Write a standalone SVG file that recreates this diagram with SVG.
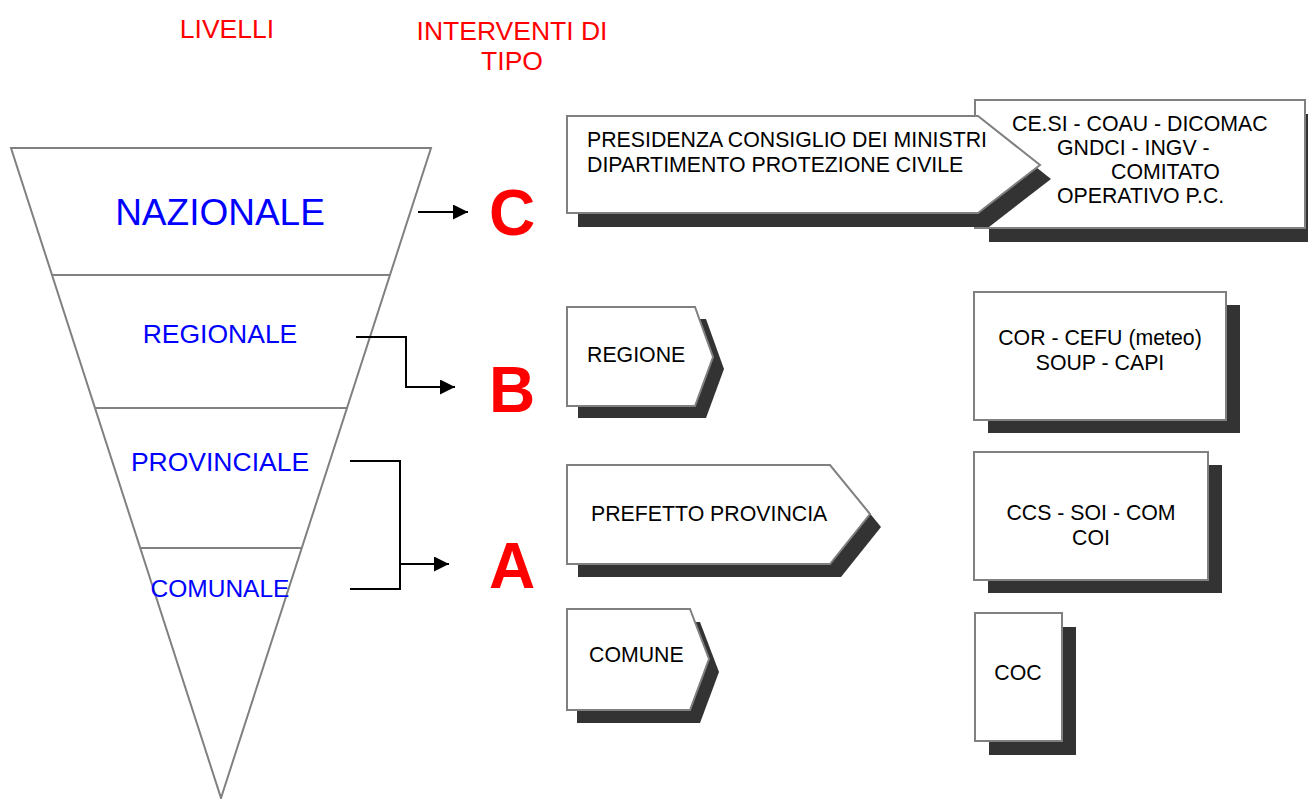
<svg xmlns="http://www.w3.org/2000/svg" width="1308" height="799" viewBox="0 0 1308 799">
<style>
text{font-family:"Liberation Sans",Arial,sans-serif}
.title{fill:#ff0000;font-size:26.5px;text-anchor:middle}
.lvl{fill:#0000ff;text-anchor:middle}
.fun{fill:none;stroke:#808080;stroke-width:2}
.shadow{fill:#333333;stroke:none}
.box{fill:#ffffff;stroke:#808080;stroke-width:2}
.bt{fill:#000000;font-size:21.3px}
.mid{text-anchor:middle}
.big{fill:#ff0000;font-size:64px;font-weight:bold;text-anchor:middle}
.con{fill:none;stroke:#000000;stroke-width:2}
</style>
<defs>
<marker id="arr" markerWidth="15" markerHeight="15" refX="15" refY="7.5" orient="auto" markerUnits="userSpaceOnUse">
<path d="M0,0 L15,7.5 L0,15 Z" fill="#000000"/>
</marker>
</defs>
<rect width="1308" height="799" fill="#ffffff"/>

<g id="titles">
<text class="title" x="227" y="38">LIVELLI</text>
<text class="title" x="512" y="40">INTERVENTI DI</text>
<text class="title" x="512" y="70">TIPO</text>
</g>

<g id="funnel">
<polygon class="fun" points="11,148 431,148 221,798"/>
<line class="fun" x1="52" y1="275" x2="390" y2="275"/>
<line class="fun" x1="95" y1="408" x2="347" y2="408"/>
<line class="fun" x1="140" y1="548" x2="302" y2="548"/>
</g>
<g id="lvl-nazionale"><text class="lvl" x="220" y="225" font-size="37">NAZIONALE</text></g>
<g id="lvl-regionale"><text class="lvl" x="220" y="343" font-size="26.5">REGIONALE</text></g>
<g id="lvl-provinciale"><text class="lvl" x="220" y="471" font-size="26.5">PROVINCIALE</text></g>
<g id="lvl-comunale"><text class="lvl" x="220" y="597" font-size="24.5">COMUNALE</text></g>

<g id="connectors">
<line class="con" x1="418" y1="212" x2="468" y2="212" marker-end="url(#arr)"/>
<polyline class="con" points="356,337 406,337 406,387 455,387" marker-end="url(#arr)"/>
<polyline class="con" points="350,461 400,461 400,589 350,589"/>
<line class="con" x1="400" y1="564" x2="449" y2="564" marker-end="url(#arr)"/>
</g>

<g id="tipo-c"><text class="big" x="512" y="235">C</text></g>
<g id="tipo-b"><text class="big" x="512" y="412">B</text></g>
<g id="tipo-a"><text class="big" x="512" y="588">A</text></g>

<g id="node-cesi">
<rect class="shadow" x="989" y="114" width="330" height="128"/>
<rect class="box" x="975" y="100" width="330" height="128"/>
<text class="bt" x="1012" y="131">CE.SI - COAU - DICOMAC</text>
<text class="bt" x="1057" y="155">GNDCI - INGV -</text>
<text class="bt" x="1111" y="179">COMITATO</text>
<text class="bt" x="1057" y="203">OPERATIVO P.C.</text>
</g>

<g id="node-presidenza">
<polygon class="shadow" points="567,116 978,116 1040,165 978,213 567,213" transform="translate(11,14)"/>
<polygon class="box" points="567,116 978,116 1040,165 978,213 567,213"/>
<text class="bt" x="587" y="147">PRESIDENZA CONSIGLIO DEI MINISTRI</text>
<text class="bt" x="587" y="172">DIPARTIMENTO PROTEZIONE CIVILE</text>
</g>

<g id="node-regione">
<polygon class="shadow" points="567,307 695,307 713,357 695,406 567,406" transform="translate(11,12)"/>
<polygon class="box" points="567,307 695,307 713,357 695,406 567,406"/>
<text class="bt" x="587" y="362">REGIONE</text>
</g>

<g id="node-cor">
<rect class="shadow" x="988" y="305" width="252" height="128"/>
<rect class="box" x="974" y="292" width="252" height="128"/>
<text class="bt mid" x="1100" y="345">COR - CEFU (meteo)</text>
<text class="bt mid" x="1100" y="370">SOUP - CAPI</text>
</g>

<g id="node-prefetto">
<polygon class="shadow" points="567,465 830,465 870,514 830,564 567,564" transform="translate(11,13)"/>
<polygon class="box" points="567,465 830,465 870,514 830,564 567,564"/>
<text class="bt" x="591" y="521">PREFETTO PROVINCIA</text>
</g>

<g id="node-ccs">
<rect class="shadow" x="988" y="465" width="234" height="128"/>
<rect class="box" x="974" y="452" width="234" height="128"/>
<text class="bt mid" x="1091" y="520">CCS - SOI - COM</text>
<text class="bt mid" x="1091" y="545">COI</text>
</g>

<g id="node-comune">
<polygon class="shadow" points="567,609 690,609 709,659 690,710 567,710" transform="translate(10,13)"/>
<polygon class="box" points="567,609 690,609 709,659 690,710 567,710"/>
<text class="bt" x="589" y="662">COMUNE</text>
</g>

<g id="node-coc">
<rect class="shadow" x="989" y="627" width="87" height="128"/>
<rect class="box" x="975" y="613" width="87" height="128"/>
<text class="bt mid" x="1018" y="680">COC</text>
</g>
</svg>
